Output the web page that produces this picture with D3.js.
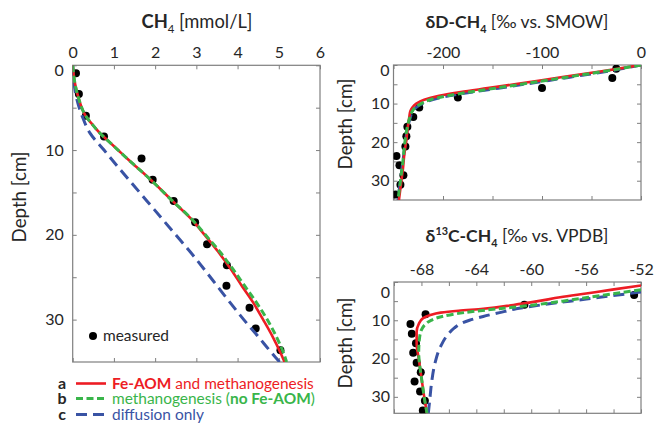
<!DOCTYPE html>
<html>
<head>
<meta charset="utf-8">
<script src="https://cdn.jsdelivr.net/npm/d3@7"></script>
<style>
body { margin: 0; background: #fff; }
text { font-family: Lato, "Open Sans", sans-serif; fill: #262626; }
</style>
</head>
<body>
<svg id="chart" width="655" height="423"></svg>
<script>
// measured depths (cm), shared by the three profiles
const depth_measured = [0.95, 3.4, 5.95, 8.4, 11, 13.5, 16, 18.5, 21.1, 23.6, 26, 28.6, 31.05, 33.6];
const ch4_measured = [0.08, 0.15, 0.32, 0.76, 1.67, 1.94, 2.45, 2.97, 3.26, 3.74, 3.73, 4.29, 4.44, 5.04];
const dD_measured = [-25, -29, -100, -185, -224, -230, -236, -237, -238, -247, -244, -240, -243, -248];
const d13C_measured = [null, -52.5, -60.5, -67.7, -68.8, -68.7, -68.4, -68.6, -68.35, -68.05, -68.5, -68.1, -67.75, -67.9];

// model curves, [depth, value]
const ch4_feaom = [[0,0],[2,0.05],[4,0.15],[6,0.32],[7,0.48],[8,0.66],[9,0.88],[10,1.1],[11,1.32],[12,1.55],[13,1.78],[14,2.0],[16,2.42],[18,2.85],[20,3.2],[22,3.53],[24,3.83],[26,4.1],[28,4.38],[30,4.62],[32,4.85],[34,5.05],[35,5.14]];
const ch4_methano = [[0,0],[2,0.05],[4,0.15],[6,0.32],[7,0.48],[8,0.66],[9,0.88],[10,1.1],[11,1.32],[12,1.55],[13,1.78],[14,2.0],[16,2.42],[18,2.86],[20,3.22],[22,3.57],[24,3.88],[26,4.17],[28,4.46],[30,4.72],[32,4.94],[34,5.12],[35,5.19]];
const ch4_diffusion = [[0,0],[2,0.03],[4,0.1],[6,0.23],[8,0.42],[10,0.76],[12,1.1],[14,1.45],[16,1.8],[18,2.15],[20,2.5],[22,2.85],[24,3.18],[26,3.5],[28,3.82],[30,4.15],[32,4.5],[34,4.84],[35,5.02]];

const dD_feaom = [[0,0],[1,-24],[2,-50],[3,-76],[4,-102],[5,-128],[6,-155],[7,-182],[8,-204],[9,-219],[10,-227],[11,-231],[12,-233],[13.4,-234],[16,-235.5],[19.5,-237],[23,-239],[27,-240.5],[31,-242.5],[35,-244.5]];
const dD_methano = [[0,0],[1,-22],[2,-46],[3,-71],[4,-96],[5,-121],[6,-147],[7,-173],[8,-196],[9,-213],[10,-222],[11,-228],[12,-231],[14,-234],[16,-236],[20,-238.5],[25,-240.5],[30,-243],[35,-245.5]];
const dD_diffusion = [[0,0],[1,-20],[2,-43],[3,-68],[4,-93],[5,-118],[6,-144],[7,-170],[8,-194],[9,-211],[10,-221],[11,-227],[12,-230.5],[14,-233.5],[16,-235.5],[20,-238],[25,-240.5],[30,-243],[35,-245.5]];

const d13C_feaom = [[0.9,-52],[2,-54.1],[3,-56],[4,-57.9],[5,-59.5],[6,-61.3],[7,-63.5],[7.5,-65.3],[8,-66.6],[8.7,-67.4],[9.5,-67.9],[11,-68.2],[13,-68.35],[16,-68.35],[20,-68.2],[25,-68],[30,-67.8],[34.3,-67.6]];
const d13C_methano = [[2,-52],[3,-53.9],[4,-55.8],[5,-57.7],[6,-59.8],[7,-62.4],[8,-64.9],[9,-66.5],[10,-67.3],[11,-67.7],[12.5,-68],[15,-68.15],[18.5,-68.2],[21,-68.15],[25,-68],[30,-67.8],[34.3,-67.6]];
const d13C_diffusion = [[2.6,-52],[4,-55],[5,-57.2],[6,-59.3],[7,-61.1],[8,-62.3],[9,-63.5],[10,-64.5],[11,-65.2],[12,-65.6],[13.4,-66],[16.8,-66.6],[21,-67],[26,-67.25],[31,-67.4],[34.3,-67.5]];

const red = '#ed1c24';
const green = '#39b54a';
const blue = '#3953a4';
const axis_color = '#7f7f7f';

const svg = d3.select("svg#chart");

// scale a text's font-size so that it spans the given width
function fit_width(sel, target) {
  const len = sel.node().getComputedTextLength();
  const fs = parseFloat(sel.attr('font-size'));
  if (len > 0) sel.attr('font-size', (fs * target / len).toFixed(2));
}

function draw_panel(p, id) {
  const x = d3.scaleLinear(p.x_domain, [p.left, p.right]);
  const y = d3.scaleLinear(p.y_domain, [p.top, p.bottom]);
  const g = svg.append('g').attr('id', id);

  g.append('clipPath').attr('id', id + '_clip')
    .append('rect')
    .attr('x', p.left).attr('y', p.top)
    .attr('width', p.right - p.left).attr('height', p.bottom - p.top);

  const x_ticks = d3.range(p.x_domain[0], p.x_domain[1] + 1e-6, p.x_step);
  const y_ticks = d3.range(0, p.y_domain[1], 5);
  const x_fmt = d => p.x_labels.includes(d) ? String(d) : '';
  const y_fmt = d => d % 10 === 0 ? String(d) : '';

  g.append('g').attr('transform', `translate(0,${p.top})`)
    .call(d3.axisTop(x).tickValues(x_ticks).tickSizeInner(-4).tickSizeOuter(0).tickPadding(7).tickFormat(x_fmt));
  g.append('g').attr('transform', `translate(0,${p.bottom})`)
    .call(d3.axisBottom(x).tickValues(x_ticks).tickSizeInner(-4).tickSizeOuter(0).tickFormat(''));
  const y_axis = g.append('g').attr('transform', `translate(${p.left},0)`)
    .call(d3.axisLeft(y).tickValues(y_ticks).tickSizeInner(-4).tickSizeOuter(0).tickPadding(p.y_pad).tickFormat(y_fmt));
  g.append('g').attr('transform', `translate(${p.right},0)`)
    .call(d3.axisRight(y).tickValues(y_ticks).tickSizeInner(-4).tickSizeOuter(0).tickFormat(''));

  g.selectAll('.domain').remove();
  g.selectAll('.tick line').attr('stroke', axis_color).attr('stroke-width', 1);
  g.selectAll('.tick text')
    .attr('font-size', 16)
    .attr('font-family', 'Lato, sans-serif')
    .attr('fill', '#262626');
  // the zero depth label sits a bit lower than its tick
  y_axis.selectAll('.tick text').filter(d => d === 0).attr('dy', p.zero_dy);

  g.append('rect')
    .attr('x', p.left).attr('y', p.top)
    .attr('width', p.right - p.left).attr('height', p.bottom - p.top)
    .attr('fill', 'none').attr('stroke', axis_color).attr('stroke-width', 1.2);

  const plot = g.append('g').attr('clip-path', `url(#${id}_clip)`);

  const pts = depth_measured.map((d, i) => ({ depth: d, value: p.measured[i] }))
    .filter(d => d.value !== null);
  plot.selectAll('circle.measured')
    .data(pts)
    .join('circle')
    .attr('class', 'measured')
    .attr('cx', d => x(d.value))
    .attr('cy', d => y(d.depth))
    .attr('r', 4)
    .attr('fill', '#000');

  const line = d3.line().x(d => x(d[1])).y(d => y(d[0])).curve(d3.curveMonotoneY);

  plot.append('path').datum(p.diffusion)
    .attr('d', line).attr('fill', 'none')
    .attr('stroke', blue).attr('stroke-width', 3).attr('stroke-dasharray', '11,6');
  plot.append('path').datum(p.feaom)
    .attr('d', line).attr('fill', 'none')
    .attr('stroke', red).attr('stroke-width', 2.6);
  plot.append('path').datum(p.methano)
    .attr('d', line).attr('fill', 'none')
    .attr('stroke', green).attr('stroke-width', 3).attr('stroke-dasharray', '7,3.5');

  // depth label
  const ylab = g.append('text')
    .attr('transform', `translate(${p.ylab_x},${p.ylab_y}) rotate(-90)`)
    .attr('text-anchor', 'middle')
    .attr('font-size', 17)
    .text('Depth [cm]');
  fit_width(ylab, 91);
  return { x, y, g };
}

draw_panel({
  x_domain: [0, 6], y_domain: [0, 35], x_step: 1, x_labels: [0, 1, 2, 3, 4, 5, 6],
  left: 72.7, right: 320, top: 65.3, bottom: 362, y_pad: 9, zero_dy: '0.66em',
  measured: ch4_measured, feaom: ch4_feaom, methano: ch4_methano, diffusion: ch4_diffusion,
  ylab_x: 26, ylab_y: 197
}, 'ch4');

draw_panel({
  x_domain: [-250, 0], y_domain: [0, 35], x_step: 50, x_labels: [-200, -100, 0],
  left: 393.5, right: 641, top: 65, bottom: 200, y_pad: 4, zero_dy: '0.66em',
  measured: dD_measured, feaom: dD_feaom, methano: dD_methano, diffusion: dD_diffusion,
  ylab_x: 352, ylab_y: 124
}, 'dD');

draw_panel({
  x_domain: [-70, -52], y_domain: [0, 34.3], x_step: 2, x_labels: [-68, -64, -60, -56, -52],
  left: 394, right: 641, top: 282, bottom: 413.3, y_pad: 4, zero_dy: '0.95em',
  measured: d13C_measured, feaom: d13C_feaom, methano: d13C_methano, diffusion: d13C_diffusion,
  ylab_x: 352, ylab_y: 343
}, 'd13C');

// titles
const t1 = svg.append('text').attr('x', 197).attr('y', 28).attr('text-anchor', 'middle').attr('font-size', 18);
t1.append('tspan').attr('font-weight', 'bold').text('CH');
t1.append('tspan').attr('font-size', '0.62em').attr('dy', '0.45em').text('4');
t1.append('tspan').attr('dy', '-0.28em').text(' [mmol/L]');
fit_width(t1, 111);

const t2 = svg.append('text').attr('x', 517).attr('y', 28).attr('text-anchor', 'middle').attr('font-size', 18);
t2.append('tspan').attr('font-weight', 'bold').text('δD-CH');
t2.append('tspan').attr('font-size', '0.62em').attr('font-weight', 'bold').attr('dy', '0.45em').text('4');
t2.append('tspan').attr('dy', '-0.28em').text(' [‰ vs. SMOW]');
fit_width(t2, 183);

const t3 = svg.append('text').attr('x', 517).attr('y', 242).attr('text-anchor', 'middle').attr('font-size', 18);
t3.append('tspan').attr('font-weight', 'bold').text('δ');
t3.append('tspan').attr('font-size', '0.62em').attr('font-weight', 'bold').attr('dy', '-0.65em').text('13');
t3.append('tspan').attr('font-weight', 'bold').attr('dy', '0.4em').text('C-CH');
t3.append('tspan').attr('font-size', '0.62em').attr('font-weight', 'bold').attr('dy', '0.45em').text('4');
t3.append('tspan').attr('dy', '-0.28em').text(' [‰ vs. VPDB]');
fit_width(t3, 183);

// measured key inside CH4 panel
svg.append('circle').attr('cx', 93).attr('cy', 336).attr('r', 4).attr('fill', '#000');
const mtext = svg.append('text').attr('x', 103).attr('y', 341).attr('font-size', 17).text('measured');
fit_width(mtext, 66);

// legend
const legend_rows = [
  { key: 'a', color: red, dash: null, width: 2.6, y: 383.5, span: 202, parts: [['Fe-AOM', 'bold'], [' and methanogenesis', 'normal']] },
  { key: 'b', color: green, dash: '7,3.5', width: 3, y: 398.5, span: 203, parts: [['methanogenesis (', 'normal'], ['no Fe-AOM', 'bold'], [')', 'normal']] },
  { key: 'c', color: blue, dash: '11,6', width: 3, y: 414.5, span: 92, parts: [['diffusion only', 'normal']] }
];
const legend = svg.append('g').attr('id', 'legend');
legend_rows.forEach(r => {
  legend.append('text').attr('x', 62).attr('y', r.y + 5).attr('text-anchor', 'middle')
    .attr('font-size', 16).attr('font-weight', 'bold').text(r.key);
  legend.append('line').attr('x1', 76).attr('x2', 106).attr('y1', r.y).attr('y2', r.y)
    .attr('stroke', r.color).attr('stroke-width', r.width)
    .attr('stroke-dasharray', r.dash);
  const t = legend.append('text').attr('x', 112).attr('y', r.y + 5.5).attr('font-size', 17);
  r.parts.forEach(([s, w]) => t.append('tspan').attr('font-weight', w).style('fill', r.color).text(s));
  fit_width(t, r.span);
});
</script>
</body>
</html>
